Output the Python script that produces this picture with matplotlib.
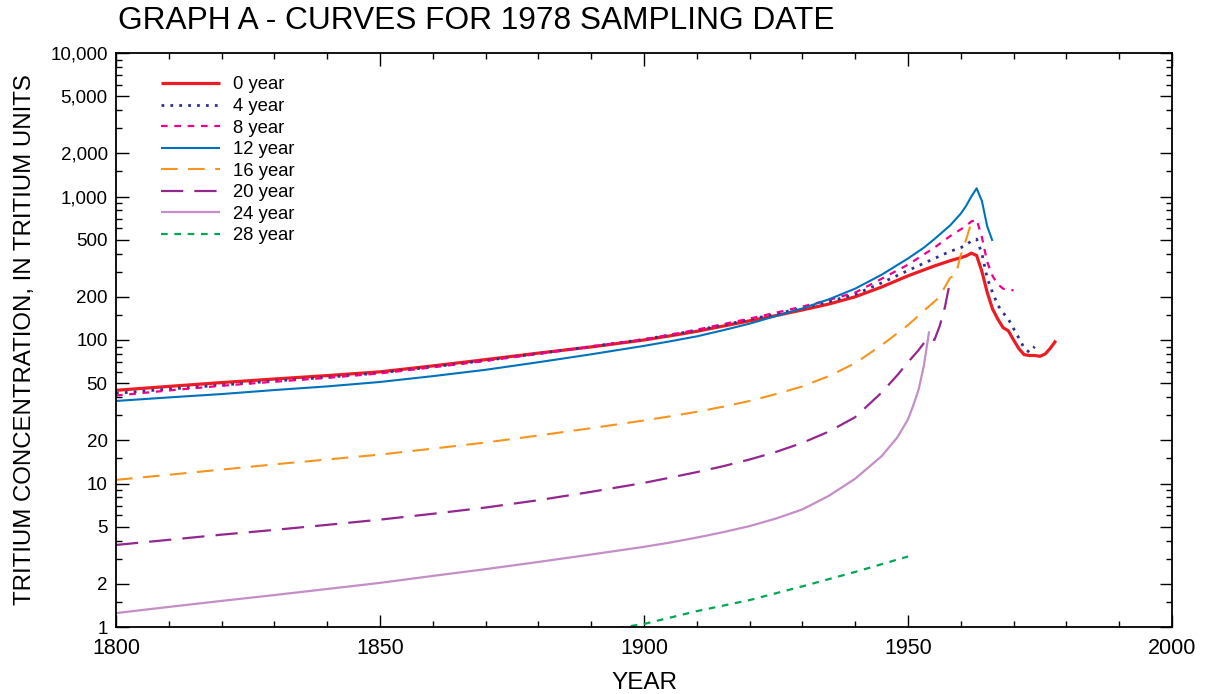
import matplotlib
matplotlib.use("Agg")
import matplotlib.pyplot as plt
from matplotlib.ticker import FixedLocator, FixedFormatter, NullFormatter

plt.rcParams['font.family'] = ['Liberation Sans', 'DejaVu Sans']

# ---------------- data ----------------
title = "GRAPH A - CURVES FOR 1978 SAMPLING DATE"
labels = ["0 year", "4 year", "8 year", "12 year", "16 year", "20 year", "24 year", "28 year"]

base_years = [1800, 1810, 1820, 1830, 1840, 1850, 1860, 1870, 1880, 1890,
              1900, 1905, 1910, 1915, 1920, 1925, 1930, 1935, 1940]

y0_years = base_years + [1945, 1950, 1955, 1958, 1960, 1961, 1962, 1963, 1964, 1965, 1966, 1967,
                         1968, 1969, 1970, 1971, 1972, 1973, 1974, 1975, 1976, 1977, 1978]
y0_vals = [44.6, 47.5, 50.5, 53.5, 56.5, 60, 66, 73, 81, 89.5,
           100, 107, 115, 125, 136, 148, 162, 178, 200,
           234, 280, 328, 357, 375, 385, 403, 388, 300, 215, 165, 140, 122, 116, 100, 87, 79,
           78, 78, 77, 80, 88, 99]

y4_years = base_years + [1945, 1950, 1955, 1958, 1960, 1961, 1962, 1963, 1964, 1965, 1966, 1967,
                         1968, 1969, 1970, 1971, 1972, 1973, 1974]
y4_vals = [42.5, 45.5, 48.5, 51.8, 55, 59, 65, 72, 80.5, 90,
           101, 108.5, 117, 127, 139, 152, 167, 185, 208,
           250, 305, 370, 415, 440, 460, 490, 505, 400, 270, 215, 175, 155, 140, 120, 103, 88,
           82, 90]

y8_years = base_years + [1945, 1950, 1955, 1958, 1960, 1961, 1962, 1963, 1964, 1965, 1966, 1967,
                         1968, 1969, 1970]
y8_vals = [41, 44.5, 48, 51.2, 54.5, 58.5, 64.5, 71.5, 80, 90,
           101, 109, 118, 129, 141, 155, 171, 190, 214,
           267, 335, 440, 530, 590, 625, 670, 690, 520, 350, 280, 245, 228, 224, 222]

y12_years = base_years + [1945, 1950, 1953, 1955, 1958, 1960, 1961, 1962, 1963, 1964, 1965, 1966]
y12_vals = [37.6, 39.8, 42, 44.8, 47.5, 51, 56, 62, 70, 79.5,
            91, 98, 106, 117, 130, 147, 166, 192, 228,
            285, 370, 440, 505, 630, 760, 860, 1000, 1140, 930, 620, 490]

y16_years = base_years + [1945, 1950, 1952, 1954, 1955, 1956, 1957, 1958, 1959, 1960, 1961, 1962]
y16_vals = [10.6, 11.5, 12.5, 13.6, 14.7, 15.9, 17.5, 19.3, 21.6, 24.3,
            27.5, 29.4, 31.6, 34.3, 37.6, 42, 47.5, 56, 69,
            92, 127, 148, 172, 185, 200, 235, 272, 282, 390, 500, 660]

y20_years = base_years + [1945, 1948, 1950, 1952, 1953, 1954, 1955, 1956, 1957, 1958]
y20_vals = [3.73, 4.05, 4.4, 4.75, 5.15, 5.6, 6.15, 6.8, 7.65, 8.75,
            10.1, 11, 12, 13.2, 14.7, 16.6, 19.2, 23, 29,
            43, 57, 70, 85, 95, 103, 100, 125, 170, 260]

y24_years = base_years + [1945, 1948, 1950, 1951, 1952, 1953, 1954]
y24_vals = [1.25, 1.38, 1.52, 1.67, 1.84, 2.03, 2.27, 2.53, 2.84, 3.2,
            3.62, 3.88, 4.2, 4.58, 5.05, 5.7, 6.6, 8.2, 10.8,
            15.5, 21, 28, 35, 45, 66, 115]

y28_years = [1890, 1900, 1910, 1920, 1930, 1940, 1950]
y28_vals = [0.92, 1.05, 1.29, 1.54, 1.92, 2.42, 3.1]

ytick_vals = [1, 2, 5, 10, 20, 50, 100, 200, 500, 1000, 2000, 5000, 10000]
ytick_labels = ["1", "2", "5", "10", "20", "50", "100", "200", "500", "1,000", "2,000", "5,000", "10,000"]
xtick_vals = [1800, 1850, 1900, 1950, 2000]
xtick_labels = ["1800", "1850", "1900", "1950", "2000"]

# ---------------- figure ----------------
fig = plt.figure(figsize=(12.10, 6.94), dpi=100)
ax = fig.add_axes([116 / 1210, 1 - 627 / 694, (1172 - 116) / 1210, (627 - 53) / 694])

series = [
    (y0_years, y0_vals, dict(color="#ED1C24", lw=2.3, ls="-")),
    (y4_years, y4_vals, dict(color="#2E3192", lw=2.0, ls=(0, (1, 2.2)))),
    (y8_years, y8_vals, dict(color="#EC008C", lw=1.6, ls=(0, (3, 3)))),
    (y12_years, y12_vals, dict(color="#0072BC", lw=1.5, ls="-")),
    (y16_years, y16_vals, dict(color="#F7941D", lw=1.5, ls=(0, (8, 5)))),
    (y20_years, y20_vals, dict(color="#92278F", lw=1.6, ls=(0, (10, 5)))),
    (y24_years, y24_vals, dict(color="#C38FC6", lw=1.6, ls="-")),
    (y28_years, y28_vals, dict(color="#00A651", lw=1.6, ls=(0, (3, 3)))),
]
for (xs, ys, st), lab in zip(series, labels):
    ax.plot(xs, ys, label=lab, solid_capstyle="butt", dash_capstyle="butt",
            solid_joinstyle="round", **st)

ax.set_yscale("log")
ax.set_xlim(1800, 2000)
ax.set_ylim(1, 10000)

minor_y = []
for d in [1, 10, 100, 1000]:
    for m in [1.5, 3, 4, 6, 7, 8, 9]:
        minor_y.append(m * d)
ax.yaxis.set_major_locator(FixedLocator(ytick_vals))
ax.yaxis.set_major_formatter(FixedFormatter(ytick_labels))
ax.yaxis.set_minor_locator(FixedLocator(minor_y))
ax.yaxis.set_minor_formatter(NullFormatter())

ax.xaxis.set_major_locator(FixedLocator(xtick_vals))
ax.xaxis.set_major_formatter(FixedFormatter(xtick_labels))
ax.xaxis.set_minor_locator(FixedLocator([y for y in range(1800, 2001, 10) if y % 50]))

ax.tick_params(which="both", direction="in", top=True, right=True, color="black", width=1.0)
ax.tick_params(which="major", length=9)
ax.tick_params(which="minor", length=4.5)
ax.tick_params(axis="x", which="major", labelsize=15.5, pad=8)
ax.tick_params(axis="y", which="major", labelsize=13.5, pad=6)
for sp in ax.spines.values():
    sp.set_linewidth(1.3)

ax.set_xlabel("YEAR", fontsize=17.5, labelpad=9)
ax.set_ylabel("TRITIUM CONCENTRATION, IN TRITIUM UNITS", fontsize=17.3, labelpad=10)

fig.text(118 / 1210, 1 - 21 / 694, title, fontsize=22.8, va="center", ha="left")

leg = ax.legend(loc="upper left", bbox_to_anchor=(0.036, 0.972), frameon=False,
                fontsize=13.3, handlelength=3.15, handletextpad=0.7, labelspacing=0.245,
                borderaxespad=0)

fig.savefig("out.png", dpi=100)
